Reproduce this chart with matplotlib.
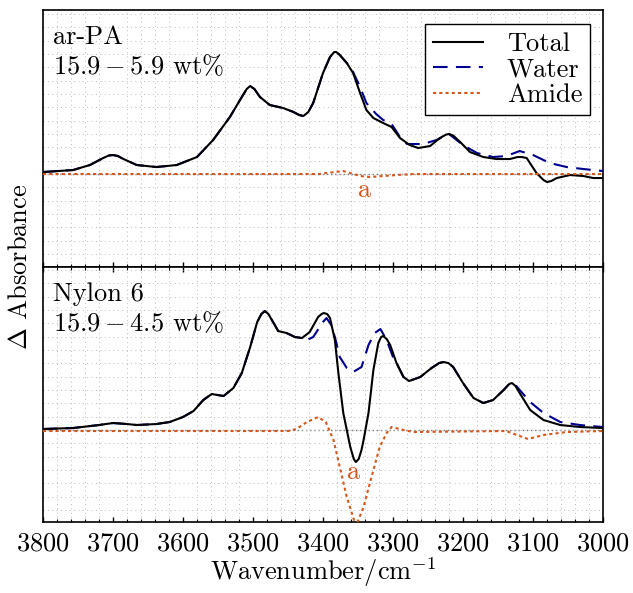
import numpy as np
import matplotlib
matplotlib.use("Agg")
from matplotlib import pyplot as plt
from matplotlib.ticker import MultipleLocator

FS = 19
plt.rcParams["font.family"] = ["cmr10", "DejaVu Serif"]
plt.rcParams["mathtext.fontset"] = "cm"
plt.rcParams["axes.formatter.use_mathtext"] = True
plt.rcParams["font.size"] = FS

# ---- ar-PA (top panel) ----
arpa_total_wn = [3800, 3757, 3733, 3714, 3706, 3700, 3693, 3685, 3666, 3638, 3609, 3580, 3557,
                 3533, 3516, 3509, 3504, 3498, 3490, 3476, 3457, 3442, 3434, 3428, 3421, 3414,
                 3400, 3390, 3384, 3381, 3376, 3366, 3357, 3347, 3338, 3328, 3314, 3302, 3290,
                 3276, 3264, 3247, 3233, 3224, 3220, 3214, 3204, 3190, 3171, 3152, 3133, 3122,
                 3116, 3109, 3095, 3085, 3080, 3074, 3066, 3047, 3028, 3014, 3000]
arpa_total = [0.02, 0.04, 0.09, 0.16, 0.185, 0.19, 0.18, 0.15, 0.09, 0.07, 0.09, 0.17, 0.34,
              0.57, 0.77, 0.85, 0.88, 0.85, 0.77, 0.69, 0.66, 0.62, 0.59, 0.58, 0.62, 0.71,
              1.01, 1.17, 1.22, 1.22, 1.19, 1.11, 1.01, 0.81, 0.64, 0.56, 0.51, 0.47, 0.36,
              0.29, 0.26, 0.28, 0.36, 0.395, 0.40, 0.385, 0.32, 0.22, 0.17, 0.15, 0.15, 0.17,
              0.17, 0.16, 0.01, -0.06, -0.08, -0.07, -0.04, -0.01, -0.02, -0.04, -0.04]

arpa_water_wn = [3800, 3757, 3733, 3714, 3706, 3700, 3693, 3685, 3666, 3638, 3609, 3580, 3557,
                 3533, 3516, 3509, 3504, 3498, 3490, 3476, 3457, 3442, 3434, 3428, 3421, 3414,
                 3400, 3390, 3384, 3381, 3376, 3366, 3357, 3347, 3338, 3324, 3314, 3302, 3290,
                 3280, 3257, 3238, 3220, 3200, 3180, 3157, 3138, 3119, 3100, 3076, 3052, 3028,
                 3000]
arpa_water = [0.02, 0.04, 0.09, 0.16, 0.185, 0.19, 0.18, 0.15, 0.09, 0.07, 0.09, 0.17, 0.34,
              0.57, 0.77, 0.85, 0.88, 0.85, 0.77, 0.69, 0.66, 0.62, 0.59, 0.58, 0.62, 0.71,
              1.01, 1.17, 1.22, 1.22, 1.19, 1.11, 1.02, 0.87, 0.71, 0.60, 0.54, 0.50, 0.37,
              0.30, 0.30, 0.34, 0.40, 0.29, 0.21, 0.17, 0.18, 0.23, 0.19, 0.11, 0.07, 0.05,
              0.03]

arpa_amide_wn = [3800, 3405, 3395, 3371, 3361, 3347, 3333, 3314, 3295, 3270, 3000]
arpa_amide = [0.0, 0.0, 0.01, 0.03, 0.01, -0.02, -0.03, -0.02, -0.01, 0.0, 0.0]

# ---- Nylon 6 (bottom panel) ----
ny_total_wn = [3800, 3757, 3720, 3700, 3680, 3666, 3638, 3619, 3600, 3585, 3571, 3559,
               3542, 3528, 3516, 3504, 3494, 3488, 3483, 3478, 3473, 3464, 3452, 3440, 3430,
               3419, 3407, 3402, 3399, 3394, 3390, 3383, 3378, 3371, 3361, 3356, 3353, 3349,
               3345, 3342, 3335, 3328, 3321, 3317, 3314, 3309, 3304, 3295, 3285, 3277, 3261,
               3245, 3234, 3228, 3221, 3214, 3200, 3185, 3171, 3157, 3142, 3134, 3130, 3125,
               3119, 3104, 3085, 3061, 3033, 3000]
ny_total = [0.01, 0.02, 0.05, 0.07, 0.06, 0.05, 0.06, 0.08, 0.13, 0.19, 0.30, 0.36,
            0.34, 0.42, 0.57, 0.83, 1.08, 1.16, 1.19, 1.16, 1.10, 0.99, 0.97, 0.93, 0.92,
            0.98, 1.13, 1.16, 1.17, 1.16, 1.12, 0.90, 0.57, 0.17, -0.17, -0.29, -0.32, -0.29,
            -0.20, -0.10, 0.17, 0.60, 0.87, 0.93, 0.94, 0.91, 0.85, 0.67, 0.53, 0.49, 0.53,
            0.62, 0.67, 0.68, 0.67, 0.63, 0.47, 0.32, 0.27, 0.30, 0.40, 0.46, 0.47, 0.44,
            0.37, 0.20, 0.10, 0.05, 0.03, 0.02]

ny_water_wn = [3800, 3757, 3720, 3700, 3680, 3666, 3638, 3619, 3600, 3585, 3571, 3559,
               3542, 3528, 3516, 3504, 3494, 3488, 3483, 3478, 3473, 3464, 3452, 3440, 3430,
               3423, 3414, 3400, 3395, 3389, 3383, 3376, 3366, 3357, 3345, 3335, 3326, 3318,
               3309, 3300, 3295, 3285, 3277, 3261, 3245, 3234, 3228, 3221, 3214, 3200, 3185,
               3171, 3157, 3142, 3134, 3130, 3125, 3119, 3104, 3085, 3061, 3033, 3000]
ny_water = [0.01, 0.02, 0.05, 0.07, 0.06, 0.05, 0.06, 0.08, 0.13, 0.19, 0.30, 0.36,
            0.34, 0.42, 0.57, 0.83, 1.08, 1.16, 1.19, 1.16, 1.10, 0.99, 0.97, 0.93, 0.92,
            0.90, 0.93, 1.08, 1.12, 1.06, 0.93, 0.73, 0.62, 0.58, 0.63, 0.85, 0.97, 1.01,
            0.90, 0.73, 0.67, 0.53, 0.49, 0.53, 0.62, 0.67, 0.68, 0.67, 0.63, 0.47, 0.32,
            0.27, 0.30, 0.40, 0.46, 0.47, 0.45, 0.40, 0.28, 0.17, 0.08, 0.05, 0.03]

ny_amide_wn = [3800, 3450, 3438, 3423, 3407, 3396, 3385, 3376, 3366, 3353, 3342, 3333,
               3319, 3309, 3302, 3285, 3271, 3138, 3123, 3107, 3085, 3052, 3000]
ny_amide = [-0.01, -0.01, 0.01, 0.08, 0.13, 0.08, -0.10, -0.37, -0.67, -0.96, -0.77, -0.53,
            -0.17, -0.03, 0.03, 0.0, -0.02, -0.01, -0.05, -0.09, -0.05, -0.02, -0.01]

panels = [
    ("ar-PA", r"$15.9 - 5.9$ wt%", arpa_total_wn, arpa_total, arpa_water_wn, arpa_water,
     arpa_amide_wn, arpa_amide, (3340, -0.16), (-0.93, 1.64)),
    ("Nylon 6", r"$15.9 - 4.5$ wt%", ny_total_wn, ny_total, ny_water_wn, ny_water,
     ny_amide_wn, ny_amide, (3356, -0.42), (-0.92, 1.63)),
]

orange = "#d4561a"
blue = "#000090"

fig = plt.figure(figsize=(6.33, 5.93), dpi=100)
ax_top = fig.add_axes([0.0679, 0.5497, 0.8847, 0.4334])
ax_bot = fig.add_axes([0.0679, 0.1197, 0.8847, 0.4300], sharex=ax_top)

for ax, p in zip([ax_top, ax_bot], panels):
    name, conc, twn, tv, wwn, wv, awn, av, apos, ylim = p
    ax.axhline(0, color="#777777", lw=1.0, ls=(0, (1, 2)), zorder=1)
    ax.plot(wwn, wv, color=blue, lw=1.5, ls=(0, (7, 4)), label="Water", zorder=3)
    ax.plot(twn, tv, color="black", lw=1.5, label="Total", zorder=4)
    ax.plot(awn, av, color=orange, lw=1.5, ls=(0, (1.5, 1.5)), label="Amide", zorder=5)
    ax.text(apos[0], apos[1], "a", color=orange, ha="center", va="center", fontsize=FS)
    ax.text(0.018, 0.94, name + "\n" + conc, transform=ax.transAxes, va="top", ha="left",
            fontsize=FS, linespacing=1.2)
    ax.set_ylim(*ylim)
    ax.set_xlim(3800, 3000)
    ax.xaxis.set_major_locator(MultipleLocator(100))
    ax.xaxis.set_minor_locator(MultipleLocator(20))
    ax.yaxis.set_major_locator(MultipleLocator(0.1333))
    ax.grid(True, which="minor", axis="x", color="#bbbbbb", lw=0.7, ls=(0, (1, 3.5)))
    ax.grid(True, which="major", axis="y", color="#bbbbbb", lw=0.7, ls=(0, (1, 3.5)))
    ax.tick_params(axis="y", left=False, labelleft=False)
    ax.tick_params(axis="x", which="major", direction="in", length=3.5, width=1.0)
    ax.tick_params(axis="x", which="minor", direction="in", length=2.0, width=0.8)
    for s in ax.spines.values():
        s.set_linewidth(1.2)

ax_top.tick_params(axis="x", which="both", top=False, bottom=True, labelbottom=False)
ax_bot.tick_params(axis="x", which="both", top=True, bottom=True, labelsize=FS, pad=7)
ax_bot.set_xlabel(r"Wavenumber/cm$^{-1}$", fontsize=FS, labelpad=0)

handles, labels = ax_top.get_legend_handles_labels()
order = [labels.index("Total"), labels.index("Water"), labels.index("Amide")]
leg = ax_top.legend([handles[i] for i in order], [labels[i] for i in order],
                    loc="upper right", bbox_to_anchor=(0.977, 0.945), borderaxespad=0,
                    fancybox=False, edgecolor="black", framealpha=1, fontsize=FS,
                    handlelength=1.9, handletextpad=0.9, labelspacing=0.08, borderpad=0.3)
leg.get_frame().set_linewidth(1.0)

fig.text(0.032, 0.55, r"$\Delta$ Absorbance", rotation=90, ha="center", va="center", fontsize=FS)

fig.savefig("out.png", dpi=100)
